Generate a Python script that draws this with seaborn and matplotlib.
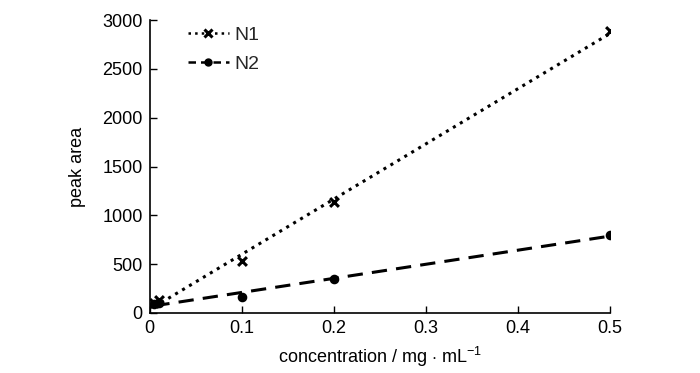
import numpy as np
import pandas as pd
import seaborn as sns
import matplotlib
matplotlib.use("Agg")
import matplotlib.pyplot as plt
from matplotlib.lines import Line2D

# concentration (mg/mL) and peak areas
conc = [0.005, 0.01, 0.1, 0.2, 0.5]
n1_area = [100, 130, 532, 1136, 2886]
n2_area = [90, 105, 164, 348, 798]

sns.set_theme(style="ticks")
plt.rcParams['font.family'] = ['Liberation Sans', 'DejaVu Sans']
plt.rcParams['mathtext.fontset'] = 'custom'
plt.rcParams['mathtext.rm'] = 'Liberation Sans'
plt.rcParams['mathtext.it'] = 'Liberation Sans'

df = pd.DataFrame({'conc': conc, 'N1': n1_area, 'N2': n2_area})

fig = plt.figure(figsize=(7, 3.73), dpi=100)
ax = fig.add_axes([0.214, 0.161, 0.657, 0.785])

sns.regplot(data=df, x='conc', y='N1', ci=None, ax=ax, marker='x',
            scatter_kws={'color': 'black', 's': 40, 'linewidths': 2.2, 'alpha': 1},
            line_kws={'color': 'black', 'linestyle': ':', 'linewidth': 2.2})
sns.regplot(data=df, x='conc', y='N2', ci=None, ax=ax, marker='o',
            scatter_kws={'color': 'black', 's': 35, 'alpha': 1},
            line_kws={'color': 'black', 'linestyle': (0, (5, 3)), 'linewidth': 2.2})

ax.set_xlim(0, 0.5)
ax.set_ylim(0, 3000)
ax.set_xticks([0, 0.1, 0.2, 0.3, 0.4, 0.5])
ax.set_xticklabels(['0', '0.1', '0.2', '0.3', '0.4', '0.5'])
ax.set_yticks(range(0, 3001, 500))
ax.tick_params(direction='in', length=5, width=1, labelsize=13, colors='black', pad=5)
for s in ['left', 'bottom']:
    ax.spines[s].set_linewidth(1.2)
    ax.spines[s].set_color('black')
sns.despine(ax=ax)
ax.set_xlabel('concentration / mg $\\cdot$ mL$^{-1}$', fontsize=13, color='black', labelpad=6)
ax.set_ylabel('peak area', fontsize=13, color='black', labelpad=12)

handles = [Line2D([], [], color='black', linestyle=':', linewidth=1.8, marker='x', markersize=6, markeredgewidth=2.2),
           Line2D([], [], color='black', linestyle=(0, (3, 2)), linewidth=1.8, marker='o', markersize=5)]
ax.legend(handles, ['N1', 'N2'], loc='upper left', bbox_to_anchor=(0.045, 1.04), frameon=False,
          fontsize=14, handlelength=2.1, handletextpad=0.3, labelspacing=0.6)

fig.savefig('out.png', dpi=100)
